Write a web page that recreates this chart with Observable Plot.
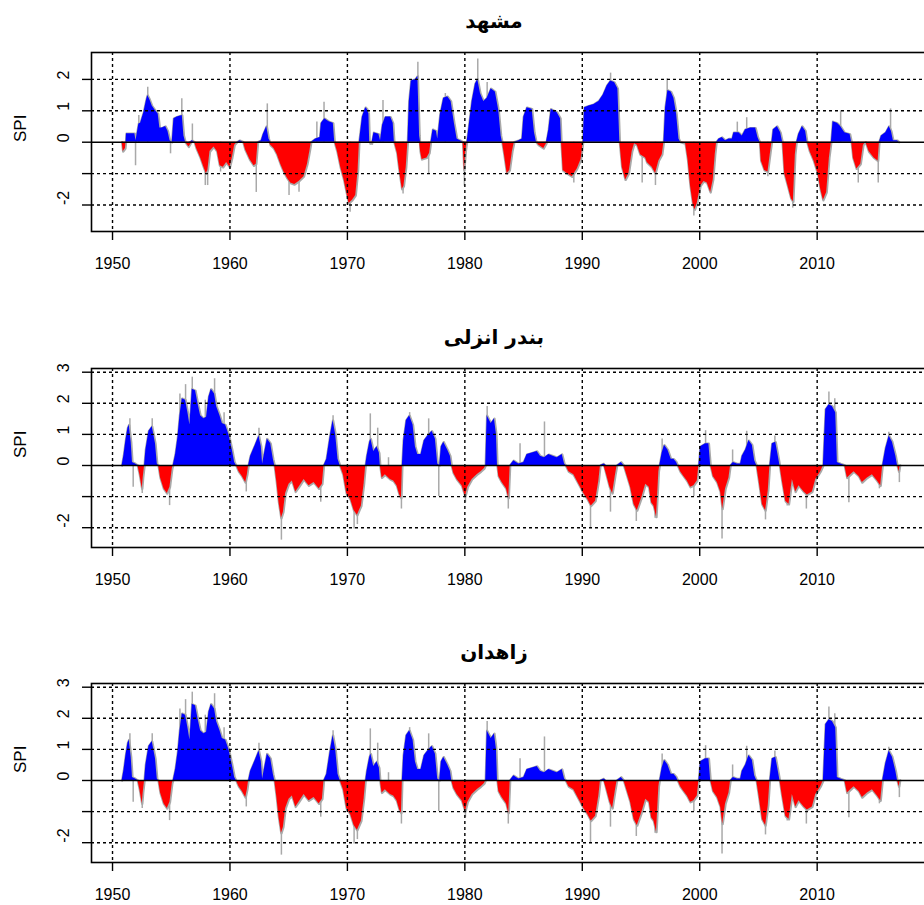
<!DOCTYPE html>
<html><head><meta charset="utf-8">
<script src="https://cdn.jsdelivr.net/npm/d3@7"></script>
<script src="https://cdn.jsdelivr.net/npm/@observablehq/plot@0.6"></script>
<style>
html,body{margin:0;padding:0;background:#fff}
body{width:924px;height:905px;overflow:hidden;position:relative}
.panel{position:absolute;left:0;width:940px;height:316px}
.title{position:absolute;left:0;width:988px;top:9px;text-align:center;font:bold 20px "DejaVu Sans",sans-serif;color:#000;z-index:2}
</style></head><body>
<script>
// Station titles
const titles = ["مشهد", "بندر انزلی", "زاهدان"];
const xTicks = [1950, 1960, 1970, 1980, 1990, 2000, 2010];

// Mashhad SPI: [year, value]
const mashhadSPI = [
[1950.82,0],[1950.91,-0.3],[1951.1,-0.2],[1951.15,0],[1951.19,0.27],[1951.9,0.27],[1952.0,0.05],[1952.24,0.58],[1952.39,0.6],[1952.67,0.95],[1952.9,1.35],[1953.0,1.49],[1953.18,1.35],[1953.38,1.15],[1953.66,1.0],[1953.89,0.9],[1954.03,0.45],[1954.23,0.45],[1954.52,0.5],[1954.72,0.35],[1954.9,0.05],[1955.08,0],[1955.23,0.75],[1955.5,0.8],[1955.94,0.85],[1956.08,0.2],[1956.22,0],[1956.5,-0.15],[1956.8,0.05],[1956.99,0],
[1957.16,-0.2],[1957.5,-0.5],[1957.78,-0.8],[1957.98,-1.0],[1958.12,-0.9],[1958.3,-0.3],[1958.64,-0.15],[1958.92,-0.3],[1959.15,-0.75],[1959.43,-0.8],[1959.72,-0.65],[1960.0,-0.8],[1960.2,-0.5],[1960.4,-0.1],[1960.62,0],[1960.85,0.05],[1961.14,0],[1961.33,-0.25],[1961.7,-0.55],[1962.05,-0.75],[1962.24,-0.7],[1962.39,0],[1962.67,0.05],[1962.84,0.25],[1963.13,0.5],[1963.32,0.1],[1963.47,-0.1],[1963.75,-0.2],[1964.03,-0.4],[1964.32,-0.7],[1964.6,-0.95],[1964.89,-1.15],[1965.17,-1.3],[1965.51,-1.35],[1965.88,-1.25],[1966.3,-1.1],[1966.6,-0.7],[1966.8,-0.3],[1966.93,0],[1967.3,0.1],[1967.67,0.15],[1967.78,0.6],[1968.07,0.75],[1968.44,0.65],[1968.8,0.6],[1968.92,0],[1969.15,-0.3],[1969.43,-0.8],[1969.72,-1.2],[1969.94,-1.6],[1970.14,-1.95],[1970.43,-1.85],[1970.71,-1.7],[1970.91,-0.9],[1971.02,0],
[1971.28,0.8],[1971.56,1.1],[1971.69,1.05],[1971.83,0.9],[1971.9,0],[1972.1,-0.05],[1972.26,0.3],[1972.68,0.25],[1972.82,0.05],[1973.0,0.55],[1973.25,0.8],[1973.68,0.8],[1973.9,0.6],[1974.0,0],[1974.25,-0.35],[1974.47,-1.0],[1974.67,-1.5],[1974.81,-1.4],[1975.01,-0.8],[1975.15,0],[1975.27,1.3],[1975.44,1.95],[1975.81,2.0],[1976.0,2.1],[1976.15,0.2],[1976.23,-0.3],[1976.36,-0.55],[1976.78,-0.5],[1977.0,-0.35],[1977.12,0],[1977.29,0.4],[1977.58,0.35],[1977.69,0.1],[1977.92,0.9],[1978.2,1.4],[1978.54,1.45],[1978.83,1.3],[1979.11,0.6],[1979.34,0.1],[1979.62,0.05],[1979.85,0],[1979.96,-0.9],[1980.08,-0.3],[1980.19,0],[1980.36,0.5],[1980.62,1.3],[1980.9,1.85],[1981.1,2.0],[1981.33,1.55],[1981.61,1.3],[1981.9,1.4],[1982.24,1.7],[1982.6,1.6],[1982.89,1.0],[1983.09,0.2],[1983.2,0],[1983.37,-0.4],[1983.6,-1.0],[1983.83,-0.9],[1984.05,-0.3],[1984.22,0],[1984.6,0.05],[1984.88,0.1],[1985.02,0.8],[1985.3,1.1],[1985.73,1.05],[1985.93,0.3],[1986.1,0],[1986.3,-0.1],[1986.72,-0.2],[1986.95,-0.05],[1987.15,0.4],[1987.35,1.05],[1987.86,0.95],[1988.15,0.75],[1988.23,0],[1988.37,-0.9],[1988.71,-1.0],[1989.14,-1.1],[1989.57,-0.85],[1989.9,-0.55],[1990.08,0],
[1990.19,1.1],[1990.56,1.15],[1990.99,1.2],[1991.41,1.3],[1991.78,1.5],[1992.12,1.8],[1992.41,1.95],[1992.75,1.9],[1993.03,1.7],[1993.2,0],[1993.4,-0.8],[1993.69,-1.2],[1993.97,-1.0],[1994.25,-0.3],[1994.45,-0.05],[1994.68,-0.1],[1994.96,-0.4],[1995.39,-0.5],[1995.53,-0.65],[1995.95,-0.8],[1996.24,-1.0],[1996.52,-0.6],[1996.81,-0.4],[1996.95,0],[1997.09,1.1],[1997.29,1.65],[1997.57,1.6],[1997.8,1.4],[1998.03,0.9],[1998.23,0.1],[1998.37,0],[1998.8,-0.05],[1999.0,-0.55],[1999.22,-1.4],[1999.45,-2.0],[1999.59,-2.15],[1999.79,-1.95],[2000.07,-1.4],[2000.36,-1.25],[2000.64,-1.3],[2000.93,-1.6],[2001.15,-1.2],[2001.32,-0.4],[2001.44,0],[2001.64,0.1],[2001.92,0.15],[2002.2,0.05],[2002.49,0.1],[2002.77,0.1],[2002.91,0.3],[2003.34,0.3],[2003.62,0.2],[2003.9,0.4],[2004.33,0.45],[2004.76,0.45],[2004.96,0.15],[2005.13,0],[2005.24,-0.6],[2005.53,-0.9],[2005.81,-0.95],[2006.04,-0.3],[2006.15,0],[2006.27,0.4],[2006.61,0.5],[2006.89,0.3],[2007.06,0],[2007.23,-1.0],[2007.52,-1.4],[2007.8,-1.8],[2007.97,-1.9],[2008.14,-0.4],[2008.26,0],[2008.43,0.25],[2008.74,0.5],[2009.02,0.35],[2009.16,0],[2009.39,-0.3],[2009.73,-0.6],[2010.07,-1.0],[2010.3,-1.5],[2010.53,-1.85],[2010.81,-1.6],[2011.04,-0.5],[2011.21,0],[2011.35,0.65],[2011.72,0.6],[2012.0,0.5],[2012.35,0.3],[2012.8,0.25],[2012.94,0],[2013.08,-0.5],[2013.37,-0.85],[2013.71,-0.7],[2013.94,-0.1],[2014.14,0],[2014.42,-0.3],[2014.85,-0.5],[2015.19,-0.6],[2015.3,0],[2015.47,0.2],[2015.84,0.3],[2016.13,0.5],[2016.32,0.35],[2016.49,0.05],[2016.84,0.05],[2016.98,0]
];
// Mashhad single-month extremes (grey spikes)
const mashhadSpikes = [
[1951.96,-0.75],[1952.24,0.85],[1953.0,1.75],[1954.94,-0.37],[1955.9,1.38],[1956.8,0.58],[1957.9,-1.38],[1958.1,-1.38],[1959.2,-0.95],[1962.24,-1.6],[1963.18,1.22],[1965.03,-1.7],[1965.88,-1.59],[1967.4,0.64],[1968.01,1.27],[1970.23,-2.23],[1971.95,-0.1],[1973.03,1.33],[1974.74,-1.65],[1976.0,2.55],[1976.92,-1.0],[1978.34,1.55],[1979.96,-1.4],[1981.1,2.65],[1981.9,1.9],[1989.28,-1.3],[1992.41,2.2],[1995.1,-1.3],[1996.23,-1.38],[1997.23,2.02],[1999.5,-2.35],[2003.2,0.64],[2004.0,0.78],[2005.8,-1.1],[2007.92,-2.1],[2012.0,1.0],[2013.5,-1.3],[2015.2,-1.3],[2016.25,1.06]
];

// Bandar Anzali SPI: [year, value]
const anzaliSPI = [
[1950.82,0],[1950.97,0.32],[1951.14,0.8],[1951.31,1.2],[1951.42,1.3],[1951.59,0.75],[1951.7,0.1],[1951.96,0.05],[1952.16,0],[1952.33,-0.3],[1952.53,-0.75],[1952.61,-0.4],[1952.73,0],[1952.84,0.5],[1953.1,1.1],[1953.38,1.25],[1953.66,0.7],[1953.81,0.05],[1953.92,0],[1954.09,-0.4],[1954.38,-0.75],[1954.66,-0.9],[1954.89,-0.7],[1955.09,-0.1],[1955.17,0],[1955.37,0.35],[1955.57,0.9],[1955.74,1.6],[1955.94,2.15],[1956.22,2.1],[1956.42,1.7],[1956.59,1.3],[1956.79,2.45],[1957.07,2.4],[1957.27,2.0],[1957.5,1.6],[1957.78,1.5],[1958.01,1.55],[1958.21,2.2],[1958.41,2.45],[1958.69,2.3],[1958.86,1.9],[1959.15,1.6],[1959.35,1.35],[1959.63,1.3],[1959.91,1.0],[1960.2,0.5],[1960.4,0.1],[1960.54,0],[1960.77,-0.2],[1961.05,-0.35],[1961.34,-0.55],[1961.48,-0.3],[1961.59,0],[1961.76,0.3],[1962.1,0.6],[1962.47,0.95],[1962.67,0.6],[1962.78,0.05],[1962.95,0.4],[1963.18,0.85],[1963.47,0.7],[1963.69,0.2],[1963.81,0],[1963.98,-0.5],[1964.18,-1.2],[1964.38,-1.7],[1964.55,-1.5],[1964.74,-0.9],[1965.03,-0.6],[1965.31,-0.5],[1965.6,-0.85],[1965.88,-0.7],[1966.31,-0.45],[1966.73,-0.65],[1967.16,-0.55],[1967.59,-0.75],[1967.87,-0.6],[1968.01,0],[1968.24,0.2],[1968.52,0.9],[1968.78,1.45],[1969.0,1.0],[1969.2,0.2],[1969.38,0],[1969.66,-0.3],[1969.94,-0.9],[1970.28,-1.1],[1970.57,-1.45],[1970.85,-1.6],[1971.19,-1.3],[1971.42,-0.6],[1971.56,0],
[1971.67,0.3],[1971.9,0.75],[1972.0,0.85],[1972.24,0.45],[1972.52,0.6],[1972.72,0.4],[1972.8,0],[1972.95,-0.4],[1973.23,-0.3],[1973.66,-0.45],[1973.94,-0.5],[1974.22,-0.65],[1974.45,-0.95],[1974.6,-1.05],[1974.68,0],[1974.79,0.8],[1975.02,1.45],[1975.3,1.6],[1975.59,1.3],[1975.79,0.6],[1975.99,0.35],[1976.27,0.35],[1976.55,0.8],[1976.84,0.95],[1977.21,1.1],[1977.49,0.85],[1977.69,0.05],[1977.86,0],[1978.0,0.6],[1978.2,0.75],[1978.54,0.5],[1978.77,0.3],[1978.88,0],[1979.05,-0.25],[1979.34,-0.45],[1979.76,-0.65],[1980.05,-1.0],[1980.25,-0.7],[1980.62,-0.45],[1981.04,-0.3],[1981.38,-0.2],[1981.67,-0.1],[1981.78,0],[1981.9,1.6],[1982.24,1.35],[1982.52,1.5],[1982.69,1.0],[1982.78,0],[1982.89,-0.35],[1983.17,-0.55],[1983.54,-0.75],[1983.74,-1.05],[1983.86,0],[1984.17,0.15],[1984.59,0.05],[1985.02,0.1],[1985.3,0.35],[1985.73,0.4],[1986.16,0.45],[1986.44,0.3],[1986.78,0.25],[1987.15,0.35],[1987.52,0.3],[1987.86,0.25],[1988.29,0.35],[1988.49,0.05],[1988.6,0],[1988.86,-0.2],[1989.28,-0.3],[1989.71,-0.6],[1990.13,-0.9],[1990.48,-1.1],[1990.76,-1.3],[1991.13,-1.15],[1991.41,-0.5],[1991.55,0],[1991.84,0.05],[1992.07,-0.3],[1992.35,-0.7],[1992.58,-0.9],[1992.83,-0.3],[1992.97,0],[1993.32,0.1],[1993.54,0],[1993.83,-0.35],[1994.11,-0.7],[1994.4,-1.25],[1994.68,-1.45],[1995.1,-1.0],[1995.4,-0.6],[1995.7,-0.7],[1995.9,-1.2],[1996.1,-1.3],[1996.32,-1.66],[1996.52,-0.2],[1996.6,0],
[1996.8,0.4],[1997.0,0.65],[1997.29,0.5],[1997.57,0.2],[1997.8,0.2],[1998.03,0.1],[1998.14,0],[1998.37,-0.2],[1998.65,-0.35],[1998.94,-0.5],[1999.22,-0.7],[1999.5,-0.65],[1999.79,-0.5],[1999.93,0],[2000.07,0.6],[2000.5,0.7],[2000.78,0.7],[2000.93,0],[2001.15,-0.35],[2001.5,-0.55],[2001.78,-0.85],[2001.95,-1.4],[2002.2,-0.75],[2002.49,-0.4],[2002.63,0],[2002.86,0.1],[2003.2,0.05],[2003.48,0.05],[2003.62,0.3],[2003.91,0.5],[2004.19,0.8],[2004.48,0.65],[2004.68,0.15],[2004.85,0],[2005.05,-0.5],[2005.33,-1.25],[2005.61,-1.45],[2005.84,-0.8],[2005.98,0],[2006.18,0.7],[2006.47,0.75],[2006.69,0.3],[2006.83,0],[2007.03,-0.5],[2007.32,-1.15],[2007.6,-1.25],[2007.89,-0.45],[2008.17,-0.85],[2008.45,-0.65],[2008.88,-0.85],[2009.16,-0.95],[2009.59,-0.85],[2009.88,-0.45],[2010.3,-0.2],[2010.53,0],[2010.73,1.8],[2011.01,1.95],[2011.3,1.9],[2011.58,1.7],[2011.72,0.1],[2012.0,0.05],[2012.35,0],[2012.57,-0.4],[2012.86,-0.3],[2013.14,-0.2],[2013.57,-0.35],[2013.85,-0.55],[2014.28,-0.4],[2014.7,-0.3],[2015.13,-0.5],[2015.41,-0.65],[2015.58,0],[2015.84,0.55],[2016.13,0.95],[2016.41,0.75],[2016.7,0.3],[2016.84,0],[2016.98,-0.2],[2017.07,0]
];
const anzaliSpikes = [
[1951.48,1.5],[1951.76,-0.7],[1952.53,-0.9],[1953.38,1.5],[1954.86,-1.29],[1955.74,2.3],[1956.22,2.6],[1956.79,2.84],[1957.9,2.1],[1958.69,2.79],[1959.5,1.7],[1961.39,-0.85],[1962.47,1.2],[1964.38,-2.4],[1967.73,-1.18],[1968.78,1.6],[1970.57,-2.04],[1970.85,-1.9],[1971.1,-1.4],[1971.95,1.66],[1972.58,1.2],[1973.5,0.25],[1974.6,-1.4],[1975.3,1.7],[1976.92,1.5],[1977.78,-1.0],[1980.05,-1.2],[1981.9,1.9],[1983.7,-1.4],[1984.7,0.7],[1986.78,1.4],[1990.7,-2.0],[1992.4,-1.5],[1994.6,-1.8],[1996.2,-1.7],[1996.8,0.85],[1999.5,-1.0],[2000.5,1.12],[2001.9,-2.36],[2002.8,0.5],[2004.0,1.1],[2005.6,-1.75],[2006.4,0.95],[2007.45,-1.3],[2009.08,-1.4],[2011.0,2.36],[2011.5,2.15],[2012.7,-1.2],[2015.3,-0.75],[2016.1,1.07],[2017.0,-0.55]
];

// Zahedan panel in the source figure shows the same series as Bandar Anzali
const zahedanSPI = anzaliSPI;
const zahedanSpikes = anzaliSpikes;

const mashhadYTicks = [-2, -1, 0, 1, 2];
const mashhadYLabels = ["-2", "", "0", "1", "2"];
const anzaliYTicks = [-2, -1, 0, 1, 2, 3];
const anzaliYLabels = ["-2", "", "0", "1", "2", "3"];

const GRAY = "#a9a9a9";

function panel(title, series, spikes, yTicks, yLabels, yDomain, top) {
  const wrap = document.createElement("div");
  wrap.className = "panel";
  wrap.style.top = top + "px";
  const t = document.createElement("div");
  t.className = "title";
  t.textContent = title;
  const dotted = {stroke: "#000", strokeOpacity: 1, strokeWidth: 1.4, strokeDasharray: "3,3"};
  const plot = Plot.plot({
    width: 940, height: 316,
    marginTop: 52, marginBottom: 85, marginLeft: 91, marginRight: 10,
    x: {domain: [1948.21, 2019.65], axis: null},
    y: {domain: yDomain, axis: null},
    style: {fontFamily: "'Liberation Sans', Arial, sans-serif", background: "white", color: "#000"},
    marks: [
      Plot.ruleX(spikes, {x: d => d[0], y1: 0, y2: d => d[1], stroke: GRAY, strokeWidth: 1.5}),
      Plot.line(series, {x: d => d[0], y: d => d[1], stroke: GRAY, strokeWidth: 2.4}),
      Plot.areaY(series, {x: d => d[0], y: d => Math.max(d[1], 0), fill: "#0000ff"}),
      Plot.areaY(series, {x: d => d[0], y: d => Math.min(d[1], 0), fill: "#ff0000"}),
      Plot.gridY(yTicks.filter(v => v !== 0), dotted),
      Plot.gridX(xTicks, dotted),
      Plot.ruleY([0], {stroke: "#000", strokeWidth: 1.4}),
      Plot.frame({stroke: "#000", strokeWidth: 1.6}),
      Plot.axisX(xTicks, {anchor: "bottom", tickSize: 9, tickPadding: 17, fontSize: 16, strokeWidth: 1.4, tickFormat: d => String(d)}),
      Plot.axisY(yTicks, {anchor: "left", tickSize: 9, strokeWidth: 1.4, tickFormat: () => ""}),
      Plot.text(yTicks, {y: d => d, text: (d, i) => yLabels[i], frameAnchor: "left", dx: -28, rotate: -90, fontSize: 16}),
      Plot.text(["SPI"], {text: d => d, frameAnchor: "left", dx: -71, rotate: -90, fontSize: 17})
    ]
  });
  wrap.appendChild(plot);
  wrap.appendChild(t);
  document.body.appendChild(wrap);
}

panel(titles[0], mashhadSPI, mashhadSpikes, mashhadYTicks, mashhadYLabels, [-2.844, 2.857], 0);
panel(titles[1], anzaliSPI, anzaliSpikes, anzaliYTicks, anzaliYLabels, [-2.637, 3.119], 316);
panel(titles[2], zahedanSPI, zahedanSpikes, anzaliYTicks, anzaliYLabels, [-2.637, 3.119], 631);
</script>
</body></html>
